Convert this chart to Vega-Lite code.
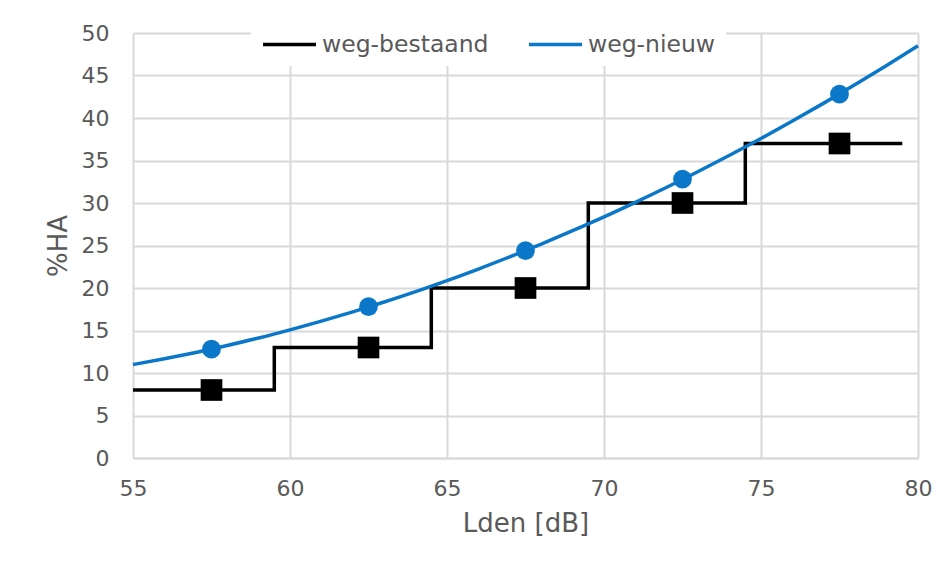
{
  "$schema": "https://vega.github.io/schema/vega-lite/v6.json",
  "width": 785,
  "height": 425,
  "autosize": {"type": "none"},
  "padding": {"left": 133, "top": 33, "right": 34, "bottom": 114},
  "background": "white",
  "config": {
    "view": {"stroke": null},
    "font": "DejaVu Sans",
    "axis": {
      "gridColor": "#D9D9D9",
      "gridWidth": 2,
      "labelColor": "#595959",
      "titleColor": "#595959",
      "labelFontSize": 22,
      "titleFontSize": 26,
      "titleFontWeight": "normal",
      "tickSize": 0,
      "domainColor": "#D9D9D9",
      "domainWidth": 2,
      "labelFlush": false
    },
    "legend": {
      "labelColor": "#595959",
      "labelFontSize": 23.5,
      "labelLimit": 400
    }
  },
  "datasets": {
    "stappen": [
      {"Lden": 55.0, "HA": 8, "serie": "weg-bestaand"},
      {"Lden": 59.5, "HA": 13, "serie": "weg-bestaand"},
      {"Lden": 64.5, "HA": 20, "serie": "weg-bestaand"},
      {"Lden": 69.5, "HA": 30, "serie": "weg-bestaand"},
      {"Lden": 74.5, "HA": 37, "serie": "weg-bestaand"},
      {"Lden": 79.5, "HA": 37, "serie": "weg-bestaand"}
    ],
    "klassen": [
      {"Lden": 57.5, "HA": 8, "serie": "weg-bestaand"},
      {"Lden": 62.5, "HA": 13, "serie": "weg-bestaand"},
      {"Lden": 67.5, "HA": 20, "serie": "weg-bestaand"},
      {"Lden": 72.5, "HA": 30, "serie": "weg-bestaand"},
      {"Lden": 77.5, "HA": 37, "serie": "weg-bestaand"},
      {"Lden": 57.5, "HA": 12.8, "serie": "weg-nieuw"},
      {"Lden": 62.5, "HA": 17.8, "serie": "weg-nieuw"},
      {"Lden": 67.5, "HA": 24.4, "serie": "weg-nieuw"},
      {"Lden": 72.5, "HA": 32.8, "serie": "weg-nieuw"},
      {"Lden": 77.5, "HA": 42.8, "serie": "weg-nieuw"}
    ],
    "curve": [
      {"Lden": 55, "HA": 10.99, "serie": "weg-nieuw"},
      {"Lden": 56, "HA": 11.67, "serie": "weg-nieuw"},
      {"Lden": 57, "HA": 12.42, "serie": "weg-nieuw"},
      {"Lden": 58, "HA": 13.24, "serie": "weg-nieuw"},
      {"Lden": 59, "HA": 14.12, "serie": "weg-nieuw"},
      {"Lden": 60, "HA": 15.08, "serie": "weg-nieuw"},
      {"Lden": 61, "HA": 16.10, "serie": "weg-nieuw"},
      {"Lden": 62, "HA": 17.19, "serie": "weg-nieuw"},
      {"Lden": 63, "HA": 18.35, "serie": "weg-nieuw"},
      {"Lden": 64, "HA": 19.57, "serie": "weg-nieuw"},
      {"Lden": 65, "HA": 20.87, "serie": "weg-nieuw"},
      {"Lden": 66, "HA": 22.23, "serie": "weg-nieuw"},
      {"Lden": 67, "HA": 23.67, "serie": "weg-nieuw"},
      {"Lden": 68, "HA": 25.17, "serie": "weg-nieuw"},
      {"Lden": 69, "HA": 26.74, "serie": "weg-nieuw"},
      {"Lden": 70, "HA": 28.37, "serie": "weg-nieuw"},
      {"Lden": 71, "HA": 30.08, "serie": "weg-nieuw"},
      {"Lden": 72, "HA": 31.85, "serie": "weg-nieuw"},
      {"Lden": 73, "HA": 33.70, "serie": "weg-nieuw"},
      {"Lden": 74, "HA": 35.61, "serie": "weg-nieuw"},
      {"Lden": 75, "HA": 37.59, "serie": "weg-nieuw"},
      {"Lden": 76, "HA": 39.64, "serie": "weg-nieuw"},
      {"Lden": 77, "HA": 41.75, "serie": "weg-nieuw"},
      {"Lden": 78, "HA": 43.94, "serie": "weg-nieuw"},
      {"Lden": 79, "HA": 46.19, "serie": "weg-nieuw"},
      {"Lden": 80, "HA": 48.51, "serie": "weg-nieuw"}
    ]
  },
  "encoding": {
    "x": {
      "field": "Lden",
      "type": "quantitative",
      "scale": {"domain": [55, 80], "nice": false, "zero": false},
      "axis": {
        "title": "Lden [dB]",
        "values": [55, 60, 65, 70, 75, 80],
        "labelPadding": 20,
        "titlePadding": 11
      }
    },
    "y": {
      "field": "HA",
      "type": "quantitative",
      "scale": {"domain": [0, 50], "nice": false},
      "axis": {
        "title": "%HA",
        "values": [0, 5, 10, 15, 20, 25, 30, 35, 40, 45, 50],
        "domain": false,
        "labelPadding": 24,
        "titlePadding": 10
      }
    }
  },
  "layer": [
    {
      "data": {"name": "stappen"},
      "mark": {"type": "line", "interpolate": "step-after", "strokeWidth": 3.5, "strokeCap": "butt"},
      "encoding": {
        "color": {
          "field": "serie",
          "type": "nominal",
          "scale": {"domain": ["weg-bestaand", "weg-nieuw"], "range": ["#000000", "#0A77C8"]},
          "legend": {
            "title": null,
            "orient": "none",
            "direction": "horizontal",
            "legendX": 118,
            "legendY": -27,
            "fillColor": "white",
            "padding": 10,
            "symbolType": "stroke",
            "symbolSize": 2809,
            "symbolStrokeWidth": 3.5,
            "labelOffset": 4,
            "columnPadding": 33
          }
        }
      }
    },
    {
      "data": {"name": "curve"},
      "mark": {"type": "line", "interpolate": "monotone", "strokeWidth": 3.5},
      "encoding": {
        "color": {"field": "serie", "type": "nominal"}
      }
    },
    {
      "data": {"name": "klassen"},
      "transform": [{"filter": "datum.serie === 'weg-bestaand'"}],
      "mark": {"type": "point", "shape": "square", "filled": true, "size": 470, "opacity": 1, "color": "#000000"},
      "encoding": {}
    },
    {
      "data": {"name": "klassen"},
      "transform": [{"filter": "datum.serie === 'weg-nieuw'"}],
      "mark": {"type": "point", "shape": "circle", "filled": true, "size": 350, "opacity": 1, "color": "#0A77C8"},
      "encoding": {}
    }
  ]
}
